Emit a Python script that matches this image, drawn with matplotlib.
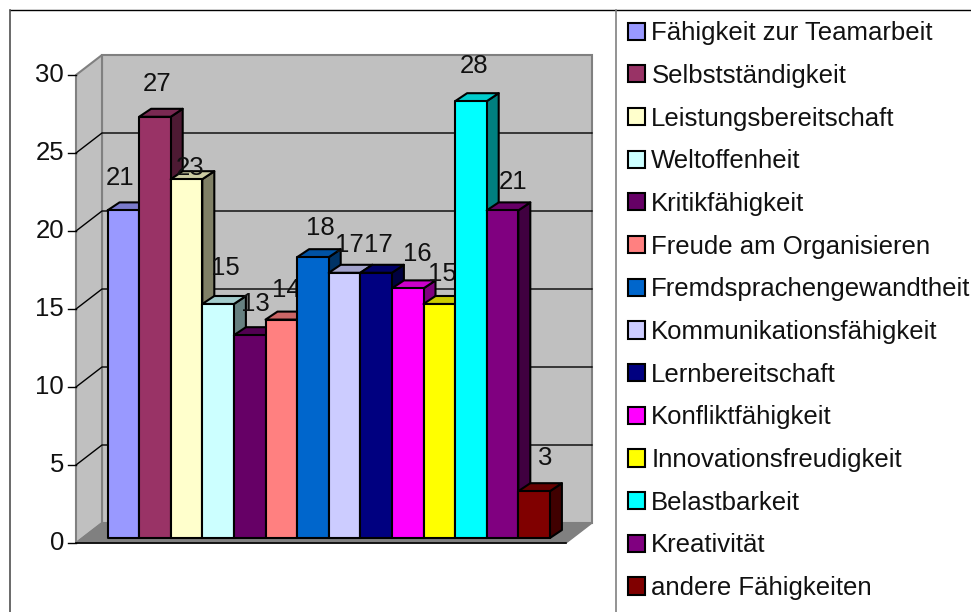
import matplotlib
matplotlib.use('Agg')
import matplotlib.pyplot as plt
from matplotlib.patches import Patch, Polygon
from matplotlib.lines import Line2D
from matplotlib.colors import to_rgb

plt.rcParams['font.family'] = ['Liberation Sans', 'DejaVu Sans']

# data
labels = ['Fähigkeit zur Teamarbeit', 'Selbstständigkeit', 'Leistungsbereitschaft',
          'Weltoffenheit', 'Kritikfähigkeit', 'Freude am Organisieren',
          'Fremdsprachengewandtheit', 'Kommunikationsfähigkeit', 'Lernbereitschaft',
          'Konfliktfähigkeit', 'Innovationsfreudigkeit', 'Belastbarkeit',
          'Kreativität', 'andere Fähigkeiten']
values = [21, 27, 23, 15, 13, 14, 18, 17, 17, 16, 15, 28, 21, 3]
colors = ['#9999FF', '#993366', '#FFFFCC', '#CCFFFF', '#660066', '#FF8080', '#0066CC',
          '#CCCCFF', '#000080', '#FF00FF', '#FFFF00', '#00FFFF', '#800080', '#800000']
yticks = [0, 5, 10, 15, 20, 25, 30]

# value labels do not sit at a fixed place above the bars, offsets in pixels
label_off_x = [12.5, 18, 19, 23, 21, 20.5, 23, 21, 18, 25, 18.5, 19, 26, 27]
label_off_y = [32, 33, 11, 36, 31, 30, 29, 28, 28, 34, 30, 35, 28, 33]

W, H = 971, 612
# pixel scale of the chart
px_x = 31.6      # one bar
px_y = 15.6      # one unit on the value axis
x0_px = 107.5    # left edge of first bar
y0_px = 543      # value 0, front of the floor

def dx(p):
    return p / px_x

def dy(p):
    return p / px_y

fig = plt.figure(figsize=(W / 100, H / 100), dpi=100)
ax = fig.add_axes([0, 0, 1, 1])
ax.set_xlim(-x0_px / px_x, (W - x0_px) / px_x)
ax.set_ylim(-(H - y0_px) / px_y, y0_px / px_y)
ax.axis('off')

left = dx(76 - x0_px)
right = dx(566 - x0_px)
top = yticks[-1]
d_x, d_y = dx(26), dy(20)

# back wall, side wall, floor
wall = dict(facecolor='#C0C0C0', edgecolor='#808080', linewidth=1.5, zorder=1)
ax.add_patch(Polygon([(left + d_x, d_y), (right + d_x, d_y), (right + d_x, top + d_y), (left + d_x, top + d_y)], **wall))
ax.add_patch(Polygon([(left, 0), (left + d_x, d_y), (left + d_x, top + d_y), (left, top)], **wall))
ax.add_patch(Polygon([(left, 0), (right, 0), (right + d_x, d_y), (left + d_x, d_y)],
                     facecolor='#808080', edgecolor='#808080', linewidth=1, zorder=2))
ax.plot([left, right], [0, 0], color='black', lw=1.2, zorder=3)

# gridlines and ticks
for t in yticks:
    if 0 < t < top:
        ax.plot([left, left + d_x, right + d_x], [t, t + d_y, t + d_y], color='black', lw=1, zorder=2)
    ax.plot([left - dx(8), left], [t, t], color='black', lw=1, zorder=2)
    ax.text(left - dx(12), t, str(t), ha='right', va='center', fontsize=18.5, color='#111111')

# bars, left to right so that each hides the side of the one before
bar_base = dy(5)
b_x, b_y = dx(12), dy(8)
for i, (v, c) in enumerate(zip(values, colors)):
    z = 4 + i
    rgb = to_rgb(c)
    side = tuple(k * 0.5 for k in rgb)
    roof = tuple(k * 0.8 for k in rgb)
    edge = dict(edgecolor='black', linewidth=1.5, joinstyle='round')
    ax.add_patch(Polygon([(i + 1, bar_base), (i + 1 + b_x, bar_base + b_y),
                          (i + 1 + b_x, v + bar_base + b_y), (i + 1, v + bar_base)],
                         facecolor=side, zorder=z, **edge))
    ax.add_patch(Polygon([(i, v + bar_base), (i + 1, v + bar_base),
                          (i + 1 + b_x, v + bar_base + b_y), (i + b_x, v + bar_base + b_y)],
                         facecolor=roof, zorder=z, **edge))
    ax.bar(i, v, width=1, bottom=bar_base, align='edge', color=c, zorder=z + 0.5, **edge)
    # label goes under the next bar, as in the original
    ax.text(i + dx(label_off_x[i]), v + bar_base + dy(label_off_y[i]), str(v),
            ha='center', va='center', fontsize=18.5, color='#111111', zorder=z + 0.7)

# legend
handles = [Patch(facecolor=c, edgecolor='black', linewidth=1.5) for c in colors]
ax.legend(handles, labels, loc='upper left', bbox_to_anchor=(620.5 / W, 1 - 13.5 / H), bbox_transform=fig.transFigure,
          frameon=False, fontsize=18.5, handlelength=0.65, handleheight=0.65, handletextpad=0.25,
          labelspacing=0.727, borderpad=0.3, borderaxespad=0, labelcolor='#111111')

# frame of the sheet
fig.add_artist(Line2D([10 / W, 1], [1 - 9.5 / H, 1 - 9.5 / H], color='black', lw=1))
fig.add_artist(Line2D([10 / W, 10 / W], [0, 1 - 9.5 / H], color='#505050', lw=1.2))
fig.add_artist(Line2D([616 / W, 616 / W], [0, 1 - 9.5 / H], color='#808080', lw=1.2))

fig.savefig('out.png', dpi=100)
